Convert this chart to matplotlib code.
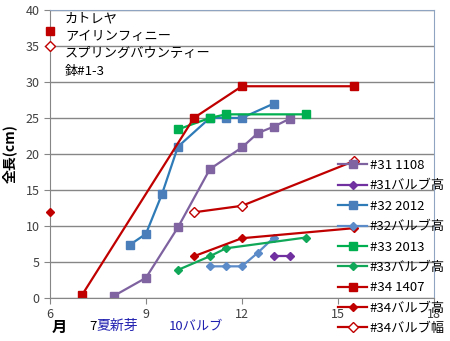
import numpy as np
import matplotlib.pyplot as plt

plt.rcParams['font.family'] = ['Noto Sans CJK JP', 'DejaVu Sans']

# 月 (x) と 全長 cm (y)
x31 = [8, 9, 10, 11, 12, 12.5, 13, 13.5]
y31 = [0.3, 2.8, 9.8, 17.9, 20.9, 22.9, 23.8, 24.9]
x31b = [13, 13.5]
y31b = [5.9, 5.9]

x32 = [8.5, 9, 9.5, 10, 11, 11.5, 12, 13]
y32 = [7.4, 8.9, 14.4, 21.0, 25.0, 25.0, 25.0, 27.0]
x32b = [11, 11.5, 12, 12.5, 13]
y32b = [4.4, 4.4, 4.4, 6.3, 8.4]

x33 = [10, 11, 11.5, 14]
y33 = [23.4, 25.0, 25.5, 25.5]
x33b = [10, 11, 11.5, 14]
y33b = [3.9, 5.8, 6.9, 8.4]

x34 = [7, 10.5, 12, 15.5]
y34 = [0.4, 25.0, 29.4, 29.4]
x34b = [10.5, 12, 15.5]
y34b = [5.8, 8.3, 9.7]
x34w = [10.5, 12, 15.5]
y34w = [11.9, 12.8, 19.0]

# 左上の凡例代わりの点
note_x = [6, 6, 6]
note_y = [37, 35, 12]

labels = ['#31 1108', '#31バルブ高', '#32 2012', '#32バルブ高',
          '#33 2013', '#33バルブ高', '#34 1407', '#34バルブ高', '#34バルブ幅']

fig = plt.figure(figsize=(4.5, 3.41), dpi=100)
ax = fig.add_axes([0.111, 0.126, 0.853, 0.845])

red = '#C00000'
sq = dict(marker='s', markersize=6, lw=1.6)
dm = dict(marker='D', markersize=4, lw=1.6)

ax.plot(x31, y31, color='#7E62A0', markerfacecolor='#8064A2', markeredgecolor='#8064A2', label=labels[0], **sq)
ax.plot(x31b, y31b, color='#7030A0', label=labels[1], **dm)
ax.plot(x32, y32, color='#2E7BB8', markerfacecolor='#4A7EBB', markeredgecolor='#4A7EBB', label=labels[2], **sq)
ax.plot(x32b, y32b, color='#5B8BC8', label=labels[3], **dm)
ax.plot(x33, y33, color='#00B050', label=labels[4], **sq)
ax.plot(x33b, y33b, color='#10A858', label=labels[5], **dm)
ax.plot(x34, y34, color=red, label=labels[6], **sq)
ax.plot(x34b, y34b, color=red, label=labels[7], **dm)
ax.plot(x34w, y34w, color=red, markerfacecolor='white', label=labels[8],
        marker='D', markersize=5, lw=1.6)

ax.plot(note_x[0], note_y[0], 's', color=red, markersize=6, clip_on=False, zorder=5)
ax.plot(note_x[1], note_y[1], 'D', color=red, markerfacecolor='white', markersize=5, clip_on=False, zorder=5)
ax.plot(note_x[2], note_y[2], 'D', color=red, markersize=4, clip_on=False, zorder=5)

ax.set_xlim(6, 18)
ax.set_ylim(0, 40)
ax.set_xticks([6, 9, 12, 15, 18])
ax.set_yticks(np.arange(0, 41, 5))
ax.tick_params(axis='both', labelsize=9, colors='#404040', length=4, color='#868686')
ax.tick_params(axis='x', pad=3)
ax.grid(axis='y', color='#868686', lw=1)
ax.set_axisbelow(True)
for s in ax.spines.values():
    s.set_color('#868686')
ax.spines['right'].set_color('#8EA4C0')
ax.spines['top'].set_color('#8EA4C0')

ax.set_ylabel('全長(cm)', fontsize=10, fontweight='bold', labelpad=6)

ax.text(6.47, 39.7, 'カトレヤ\nアイリンフィニー\nスプリングバウンティー\n鉢#1-3',
        fontsize=9.5, va='top', ha='left', linespacing=1.45)

fig.text(52 / 450, 1 - 327 / 341, '月', fontsize=11, fontweight='bold', ha='left', va='center')
fig.text(89 / 450, 1 - 326 / 341, '7', fontsize=9.5, ha='left', va='center')
fig.text(96 / 450, 1 - 326 / 341, '夏新芽', fontsize=10, color='#2020B0', ha='left', va='center')
fig.text(169 / 450, 1 - 326 / 341, '10バルブ', fontsize=9.5, color='#2020B0', ha='left', va='center')

ax.legend(loc='upper left', bbox_to_anchor=(338 / 450, 1 - 159 / 341),
          bbox_transform=fig.transFigure, frameon=False, fontsize=9.5,
          handlelength=2.2, handletextpad=0.2, labelspacing=0.56,
          borderpad=0, borderaxespad=0)

fig.savefig('out.png', dpi=100)
